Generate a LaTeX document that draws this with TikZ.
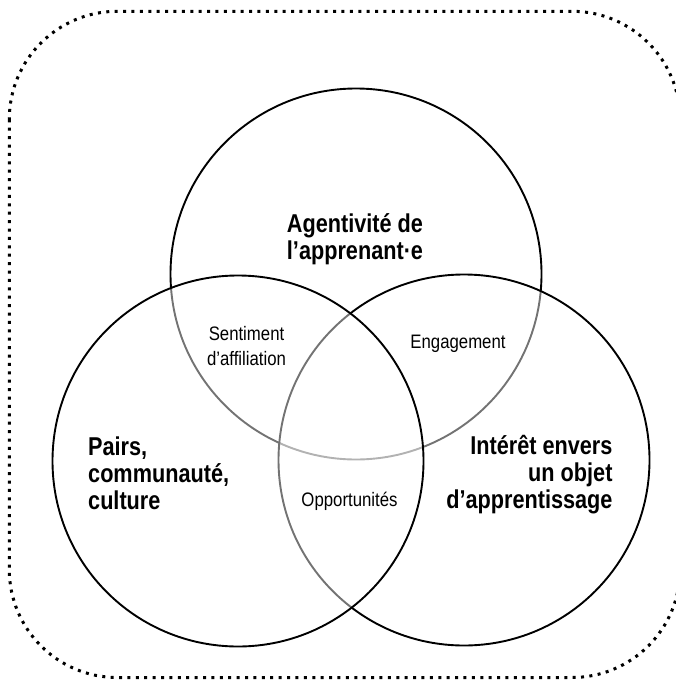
\documentclass[tikz,border=0pt]{standalone}
\usepackage{fontspec}
\setmainfont{Liberation Sans}
\newfontfamily\boldlab[FakeStretch=0.84]{Liberation Sans}
\newfontfamily\reglab[FakeStretch=0.86]{Liberation Sans}
\begin{document}
\begin{tikzpicture}[x=1pt,y=-1pt,
  venn/.style={draw=black, line width=1.9pt, fill=white, fill opacity=0.45, draw opacity=1},
  bigtxt/.style={inner sep=0pt, font=\boldlab\bfseries\fontsize{25.8}{27}\selectfont},
  smalltxt/.style={inner sep=0pt, font=\reglab\fontsize{19.5}{24.3}\selectfont},
  frame/.style={line width=3pt, dash pattern=on 3pt off 5.4pt, rounded corners=108pt}]
\useasboundingbox (0,0) rectangle (675,682);
\draw[frame] (9.3,11.3) rectangle (680,677.5);
\coordinate (ctop) at (356,274);
\coordinate (cleft) at (238,461);
\coordinate (cright) at (464,460);
\path[venn] (ctop) circle[radius=185.5pt];
\path[venn] (cright) circle[radius=185.5pt];
\path[venn] (cleft) circle[radius=185.5pt];
\node[bigtxt, align=center, anchor=base] (agent) at (355,259.7) {Agentivité de\\l’apprenant·e};
\node[bigtxt, align=left, anchor=base west] (pairs) at (88,509) {Pairs,\\communauté,\\culture};
\node[bigtxt, align=right, anchor=base east] (interet) at (612.7,508) {Intérêt envers\\un objet\\d’apprentissage};
\node[smalltxt, align=center, anchor=base] (sent) at (246.5,365) {Sentiment\\d’affiliation};
\node[smalltxt, anchor=base] (engag) at (458,348.3) {Engagement};
\node[smalltxt, anchor=base] (opp) at (349.5,506) {Opportunités};
\end{tikzpicture}
\end{document}
